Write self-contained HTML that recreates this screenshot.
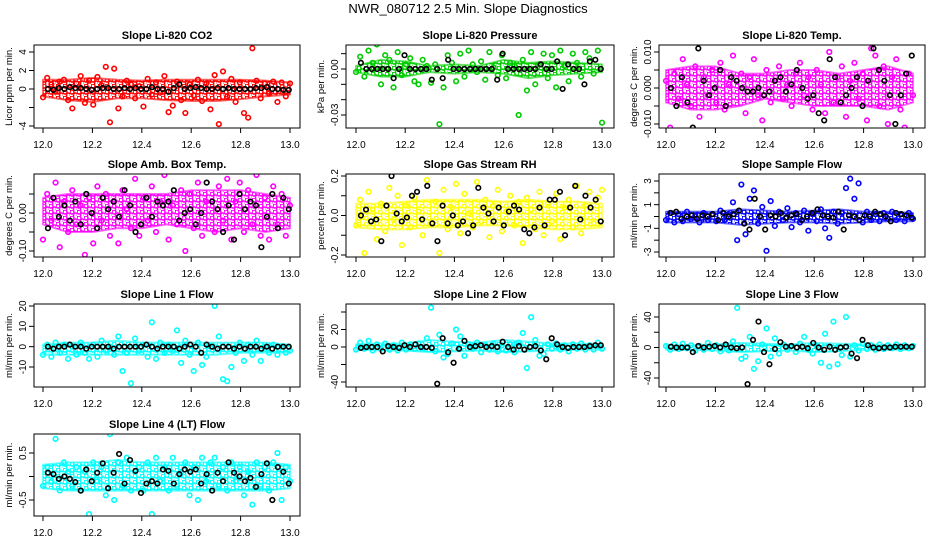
<!DOCTYPE html>
<html><head><meta charset="utf-8"><style>
html,body{margin:0;padding:0;background:#fff;}
svg{display:block;font-family:"Liberation Sans",sans-serif;}
</style></head><body>
<svg id="chart" width="936" height="540" viewBox="0 0 936 540">
<defs id="defs"></defs>
<text x="468" y="13" text-anchor="middle" font-size="13">NWR_080712  2.5 Min. Slope Diagnostics</text>
</svg>
<script>
const xTicks = [12.0, 12.2, 12.4, 12.6, 12.8, 13.0];
const xTickLabels = ["12.0","12.2","12.4","12.6","12.8","13.0"];

const co2Color = [-0.9,1.2,0.5,-0.3,0.8,1.0,-1.2,-2.1,0.6,1.4,-1.5,0.9,-1.7,1.3,0.4,2.4,-3.6,2.2,-2.1,-0.8,0.9,0.5,-1.0,0.3,-1.9,1.1,-0.6,0.7,-0.4,1.4,-2.5,-1.8,0.8,-1.2,-2.6,0.5,-0.7,1.0,-1.3,0.6,-2.2,1.5,-3.8,1.9,-0.8,1.1,-1.4,0.7,-2.6,-3.1,4.4,0.9,-1.0,0.6,-0.5,0.8,-1.4,0.7,-0.8,0.6];
const co2Black = [0,-0.1,0.1,0,0.2,0.1,0.1,0,-0.1,0,0.1,0.1,0,0,0.1,0,0.1,0,0,0.2,0,0,-0.3,0.1,0.5,0,0.1,0.2,0.1,0,0,0.1,0,0.1,0,0,0,0,0.1,0.1,0.2,0,0,-0.1,-0.1];
const co2BandUpper = [1,1,1.2,1,0.9,1,1,1,1,0.9,0.7];
const co2BandLower = [-0.8,-1.2,-1.4,-1,-1,-1.2,-1.3,-1.3,-1.1,-0.8,-0.6];
const co2Ticks = [-4,-2,0,2,4];
const co2TickLabels = ["-4","","0","2","4"];

const presColor = [-0.002,0.008,-0.005,0.012,0.004,0.016,-0.01,0.009,0.006,-0.012,0.011,-0.004,0.003,0.007,-0.008,-0.01,0.006,0.002,-0.009,0.003,-0.036,-0.012,0.009,0.004,-0.008,0.01,-0.005,0.012,0.003,-0.002,0.005,-0.007,0.011,0.001,-0.004,0.009,-0.006,0.004,0.002,-0.03,0.006,-0.014,0.011,-0.01,0.003,0.01,-0.006,0.009,-0.012,0.012,0.002,-0.008,0.01,0.004,-0.005,0.011,0.007,-0.003,0.012,-0.035];
const presBlack = [0.004,0,0,0,0,0,-0.006,0,0.009,0,0,0,0,-0.007,0,-0.006,0.006,0,0,0,0,0,0,0,0,-0.007,0.01,0,0,0,0,0,0,0.003,0,0,0.005,-0.013,0.003,0,0,-0.01,0.005,0.006,0];
const presBandUpper = [0.002,0.006,0.005,0.002,0.003,0.002,0.006,0.004,0.005,0.004,0.003];
const presBandLower = [-0.002,-0.005,-0.005,-0.002,-0.003,-0.002,-0.003,-0.006,-0.004,-0.003,-0.002];
const presTicks = [-0.03,-0.02,-0.01,0,0.01];
const presTickLabels = ["-0.03","","","0.00",""];

const ltempColor = [0.002,-0.011,0.004,-0.003,0.008,0.001,-0.005,0.006,-0.008,0.003,-0.002,0.005,-0.004,0.007,-0.006,0.001,0.009,-0.012,0.004,-0.007,0.003,0.008,-0.002,-0.009,0.005,-0.004,0.002,0.006,-0.003,0.001,-0.005,0.004,0.007,-0.002,0.003,-0.006,0.005,0.001,-0.007,0.01,-0.004,0.003,0.006,-0.008,0.002,0.007,-0.003,0.004,-0.009,0.011,0.009,-0.005,0.006,-0.01,0.003,0.008,-0.006,-0.011,0.004,-0.002];
const ltempBlack = [0,-0.005,0.003,-0.004,-0.011,0.011,0.002,-0.002,0,0.005,-0.005,0.003,0.002,0,-0.001,-0.001,0,-0.002,-0.001,0.002,0.003,-0.001,0.001,0.005,0,-0.003,-0.002,-0.007,-0.009,0.008,0.003,-0.004,-0.002,0,0.003,-0.005,0.002,0.011,0.005,0.002,-0.002,-0.01,-0.002,0.004,0.009];
const ltempBandUpper = [0.005,0.006,0.006,0.004,0.004,0.005,0.005,0.004,0.005,0.006,0.004];
const ltempBandLower = [-0.004,-0.006,-0.006,-0.005,-0.003,-0.004,-0.005,-0.005,-0.005,-0.006,-0.004];
const ltempTicks = [-0.01,-0.005,0,0.005,0.01];
const ltempTickLabels = ["-0.010","","0.000","","0.010"];

const ambColor = [-0.07,0.05,-0.02,0.08,-0.09,0.03,-0.05,0.06,-0.03,0.02,-0.11,0.04,-0.08,0.07,-0.02,0.05,-0.06,0.03,-0.08,0.06,0.01,-0.04,0.09,-0.06,0.04,-0.02,0.07,-0.05,0.03,0.1,-0.07,0.02,-0.03,0.06,-0.1,0.05,-0.04,0.08,-0.06,0.03,0.12,-0.05,0.07,-0.02,0.09,-0.07,0.03,0.08,-0.05,0.06,-0.03,0.1,-0.06,0.04,-0.07,0.07,-0.03,0.05,-0.06,0.02];
const ambBlack = [-0.04,0.04,-0.01,0.02,-0.02,0.03,-0.03,0.05,0,-0.04,0.04,0.01,0.03,-0.01,0.06,0.02,-0.05,-0.03,0.04,-0.01,0.03,0.02,0.03,0.06,-0.02,0,0.01,-0.03,0,0.08,0.03,0.01,-0.05,0.02,-0.07,0.05,0.01,0.03,0.02,-0.09,-0.01,0.05,-0.04,0.04,0.01];
const ambBandUpper = [0.04,0.05,0.05,0.05,0.05,0.05,0.06,0.06,0.06,0.05,0.04];
const ambBandLower = [-0.03,-0.05,-0.05,-0.04,-0.04,-0.03,-0.04,-0.05,-0.04,-0.05,-0.04];
const ambTicks = [-0.1,-0.05,0,0.05];
const ambTickLabels = ["-0.10","","0.00",""];

const rhColor = [-0.05,0.08,-0.19,0.12,0.03,-0.12,0.06,-0.08,0.14,-0.02,0.1,-0.15,0.05,-0.06,0.09,0.02,-0.1,0.18,-0.04,0.07,-0.19,0.13,-0.07,0.04,0.16,-0.09,0.11,0.01,-0.06,0.17,-0.03,0.08,-0.11,0.05,0.13,-0.08,0.02,0.1,-0.05,0.07,-0.14,0.09,0.03,-0.07,0.12,-0.1,0.06,-0.03,0.11,-0.12,0.04,0.08,-0.06,0.15,-0.09,0.05,0.12,-0.04,0.09,0.13];
const rhBlack = [0,0.03,-0.03,-0.02,-0.13,0.05,0.2,0.01,-0.03,-0.01,0.1,0.12,-0.02,0.15,-0.04,-0.13,0.05,-0.04,0,-0.05,-0.03,-0.09,-0.05,0.14,0.04,0.01,-0.03,0.04,-0.05,0.02,0.05,0.03,-0.07,-0.09,-0.06,0.04,-0.05,0.08,0.08,0.12,-0.1,0.04,0.15,-0.02,0.1,0.04,0.08,-0.03];
const rhBandUpper = [0.06,0.06,0.07,0.08,0.08,0.08,0.07,0.08,0.07,0.07,0.06];
const rhBandLower = [-0.06,-0.07,-0.07,-0.06,-0.06,-0.05,-0.05,-0.06,-0.07,-0.07,-0.06];
const rhTicks = [-0.2,-0.1,0,0.1,0.2];
const rhTickLabels = ["-0.2","","0.0","","0.2"];

const sflowColor = [-0.3,0.3,-0.5,0.2,-0.4,0.4,-0.2,0.1,-0.5,0.3,-0.3,0.2,-0.4,0.5,-0.3,0.2,1.2,-2,2.7,-1.5,1.5,2.2,-0.6,0.8,-2.9,1.3,-0.8,0.4,-0.3,0.7,-0.9,0.3,-0.5,0.5,-1.2,0.2,-0.4,0.6,-1.0,-1.8,0.4,-0.6,0.3,2.4,3.2,1.5,2.8,-0.5,0.4,-0.3,0.2,-0.4,0.3,-0.2,0.4,-0.3,0.2,-0.4,0.3,-0.2];
const sflowBlack = [0.3,0.4,-0.2,0,0.1,-0.2,0.1,0,0.2,-0.3,0.3,0,0.2,0.5,-0.6,-1.1,1.5,0,-1.1,0.1,0,0.3,-0.1,0.1,0.2,-0.3,0,0.3,0.6,0.1,0,-0.1,0.4,-1.1,0.1,0,-0.3,0.1,0,0.4,0.2,0,-0.4,0.3,0.2,0.1,-0.1];
const sflowBandUpper = [0.4,0.4,0.4,0.6,0.5,0.4,0.5,0.6,0.4,0.4,0.3];
const sflowBandLower = [-0.5,-0.5,-0.5,-0.7,-0.6,-0.5,-0.5,-0.6,-0.5,-0.4,-0.4];
const sflowTicks = [-3,-2,-1,0,1,2,3];
const sflowTickLabels = ["-3","","-1","","1","","3"];

const l1Color = [-4,1,-5,2,-3,1,-6,0,-4,2,-3,-6,1,-5,3,-2,0,-4,5,-12,-3,-18,4,-2,1,-5,12,-6,2,-3,1,-2,8,-8,3,-4,-12,2,-9,-5,0,20,5,-16,-17,-10,-3,2,-7,1,-4,3,-7,0,-3,1,-4,0,-3,-2];
const l1Black = [0,-1,0,0,1,0,0,-1,0,0,0,0,-1,0,0,0,0,0,1,0,-1,0,0,0,-1,0,1,0,-3,1,0,-1,0,0,-1,0,-1,0,0,-1,0,-1,0,0,0];
const l1BandUpper = [1,2,2,3,2,2,2,2,2,2,1];
const l1BandLower = [-4,-4,-4,-4,-4,-4,-4,-4,-3,-3,-3];
const l1Ticks = [-10,0,10,20];
const l1TickLabels = ["-10","0","10","20"];

const l2Color = [-3,5,-2,7,-4,3,-2,4,-3,2,-4,5,-3,3,-2,4,-1,10,45,-5,14,-12,-8,4,20,12,-10,3,-2,5,-6,2,-3,4,-5,2,-4,3,-6,5,16,-24,34,8,-10,-8,3,-2,4,-3,2,-5,3,-2,4,-3,2,-3,5,-2];
const l2Black = [-1,0,0,0,-5,1,0,-1,2,0,3,0,0,-1,-42,10,-6,-18,-2,7,0,1,2,0,1,0,6,0,-3,1,-3,0,1,-4,-14,10,3,0,-1,0,0,0,1,2,2];
const l2BandUpper = [3,4,4,8,6,5,8,6,4,4,3];
const l2BandLower = [-3,-4,-4,-6,-5,-4,-6,-5,-4,-3,-3];
const l2Ticks = [-40,-20,0,20,40];
const l2TickLabels = ["-40","","0","20",""];

const l3Color = [2,-3,4,-2,5,-1,3,-4,2,-3,6,-2,3,-5,2,-4,8,52,-15,-12,14,-28,-18,4,25,-12,12,-8,4,-3,2,-6,5,14,-3,-8,2,-20,18,-25,34,-22,-10,40,-12,3,-4,5,-2,3,-3,4,-2,3,-1,4,-2,3,-1,2];
const l3Black = [1,0,0,0,-6,2,0,1,2,0,4,0,-1,0,-48,10,34,-6,-22,-2,7,1,2,0,1,-1,6,0,-3,1,-3,0,1,-8,-14,10,3,0,-1,0,0,1,1,1,1];
const l3BandUpper = [3,3,4,6,5,4,6,5,4,3,3];
const l3BandLower = [-3,-3,-4,-6,-5,-4,-6,-5,-3,-3,-3];
const l3Ticks = [-40,-20,0,20,40];
const l3TickLabels = ["-40","","0","","40"];

const l4Color = [-0.2,0.2,-0.1,0.8,-0.3,0.3,0.1,-0.2,0.2,-0.3,0.1,-0.8,0.3,-0.1,0.2,-0.4,0.9,-0.5,0.3,-0.2,0.4,-0.3,0.1,0.2,-0.3,0.3,-0.8,0.4,-0.1,0.2,-0.3,0.4,-0.2,0.1,0.3,-0.4,0.2,-0.5,0.4,-0.1,0.3,0.4,-0.2,0.2,-0.3,0.3,-0.1,0.2,-0.4,0.1,-0.6,0.3,-0.2,0.2,-0.3,0.3,0.5,-0.5,0.2,-0.1];
const l4Black = [0.08,0.05,-0.05,0,-0.05,-0.12,-0.3,0.15,-0.1,0.08,0.28,-0.25,0.08,0.48,-0.15,0.35,0.12,-0.35,-0.15,-0.1,-0.15,0.15,0.12,-0.15,0.05,0.15,0.1,0.15,-0.15,0.05,-0.3,0.08,-0.1,0.3,0.08,0,-0.1,-0.03,-0.22,0.05,0.28,-0.5,0.2,0.1,-0.15];
const l4BandUpper = [0.25,0.3,0.3,0.35,0.3,0.3,0.3,0.3,0.3,0.3,0.25];
const l4BandLower = [-0.25,-0.3,-0.3,-0.3,-0.3,-0.3,-0.3,-0.3,-0.3,-0.3,-0.25];
const l4Ticks = [-0.5,0,0.5];
const l4TickLabels = ["-0.5","","0.5"];

const NS = "http://www.w3.org/2000/svg";
const svg = document.getElementById("chart");
const defs = document.getElementById("defs");
const cols = [{l:34,r:300,x0:43,x1:290},{l:346,r:614,x0:356,x1:602},{l:659,r:925,x0:666,x1:913}];
const rows = [{t:45,b:128},{t:174,b:257},{t:304,b:387},{t:434,b:516}];
const panels = [
 {name:"co2",title:"Slope Li-820 CO2",ylab:"Licor ppm per min.",c:0,r:0,col:"#ff0000",d:co2Color,k:co2Black,bu:co2BandUpper,bl:co2BandLower,tk:co2Ticks,tl:co2TickLabels,v0:4,p0:52,v1:-4,p1:126},
 {name:"pressure",title:"Slope Li-820 Pressure",ylab:"kPa per min.",c:1,r:0,col:"#00cc00",d:presColor,k:presBlack,bu:presBandUpper,bl:presBandLower,tk:presTicks,tl:presTickLabels,v0:0,p0:69,v1:-0.03,p1:115},
 {name:"li820-temp",title:"Slope Li-820 Temp.",ylab:"degrees C per min.",c:2,r:0,col:"#ff00ff",d:ltempColor,k:ltempBlack,bu:ltempBandUpper,bl:ltempBandLower,tk:ltempTicks,tl:ltempTickLabels,v0:0.01,p0:52,v1:-0.01,p1:124},
 {name:"amb-box-temp",title:"Slope Amb. Box Temp.",ylab:"degrees C per min.",c:0,r:1,col:"#ff00ff",d:ambColor,k:ambBlack,bu:ambBandUpper,bl:ambBandLower,tk:ambTicks,tl:ambTickLabels,v0:0,p0:213,v1:-0.1,p1:251},
 {name:"gas-stream-rh",title:"Slope Gas Stream RH",ylab:"percent per min.",c:1,r:1,col:"#ffff00",d:rhColor,k:rhBlack,bu:rhBandUpper,bl:rhBandLower,tk:rhTicks,tl:rhTickLabels,v0:0.2,p0:176,v1:-0.2,p1:255},
 {name:"sample-flow",title:"Slope Sample Flow",ylab:"ml/min per min.",c:2,r:1,col:"#0000ff",d:sflowColor,k:sflowBlack,bu:sflowBandUpper,bl:sflowBandLower,tk:sflowTicks,tl:sflowTickLabels,v0:3,p0:181,v1:-3,p1:252},
 {name:"line1-flow",title:"Slope Line 1 Flow",ylab:"ml/min per min.",c:0,r:2,col:"#00ffff",d:l1Color,k:l1Black,bu:l1BandUpper,bl:l1BandLower,tk:l1Ticks,tl:l1TickLabels,v0:20,p0:306,v1:-10,p1:367},
 {name:"line2-flow",title:"Slope Line 2 Flow",ylab:"ml/min per min.",c:1,r:2,col:"#00ffff",d:l2Color,k:l2Black,bu:l2BandUpper,bl:l2BandLower,tk:l2Ticks,tl:l2TickLabels,v0:0,p0:347,v1:-40,p1:382},
 {name:"line3-flow",title:"Slope Line 3 Flow",ylab:"ml/min per min.",c:2,r:2,col:"#00ffff",d:l3Color,k:l3Black,bu:l3BandUpper,bl:l3BandLower,tk:l3Ticks,tl:l3TickLabels,v0:40,p0:317,v1:-40,p1:378},
 {name:"line4-flow",title:"Slope Line 4 (LT) Flow",ylab:"ml/min per min.",c:0,r:3,col:"#00ffff",d:l4Color,k:l4Black,bu:l4BandUpper,bl:l4BandLower,tk:l4Ticks,tl:l4TickLabels,v0:0.5,p0:453,v1:-0.5,p1:500}
];
function mk(tag, attrs, parent){const e=document.createElementNS(NS,tag);for(const a in attrs)e.setAttribute(a,attrs[a]);parent.appendChild(e);return e;}

panels.forEach(p=>{
  const C=cols[p.c], R=rows[p.r];
  // speckle pattern for dense band
  const pat=mk("pattern",{id:"pat-"+p.name,width:7,height:6,patternUnits:"userSpaceOnUse"},defs);
  mk("circle",{cx:2,cy:2,r:2,fill:"none",stroke:p.col,"stroke-width":1.5},pat);
  mk("circle",{cx:5.5,cy:5,r:2,fill:"none",stroke:p.col,"stroke-width":1.5},pat);
  const g=mk("g",{},svg);
  
  
  const xs=v=>C.x0+(v-12)*(C.x1-C.x0);
  const ys=v=>p.p0+(v-p.v0)*(p.p1-p.p0)/(p.v1-p.v0);
  const cp=mk("clipPath",{id:"clip-"+p.name},g);
  mk("rect",{x:C.l,y:R.t,width:C.r-C.l,height:R.b-R.t},cp);
  const t=mk("text",{x:(C.l+C.r)/2,y:R.t-6,"text-anchor":"middle","font-size":"11","font-weight":"bold"},g);
  t.textContent=p.title;
  
  
  const yl=mk("text",{transform:`translate(${C.l-22},${(R.t+R.b)/2}) rotate(-90)`,"text-anchor":"middle","font-size":"9.5"},g);
  yl.textContent=p.ylab;
  
  
  const pts=mk("g",{"clip-path":`url(#clip-${p.name})`},g);
  
  
  const n=p.bu.length;
  let dpts=[];
  p.bu.forEach((v,i)=>dpts.push(xs(12+i/(n-1))+","+ys(v)));
  for(let i=n-1;i>=0;i--) dpts.push(xs(12+i/(n-1))+","+ys(p.bl[i]));
  const band=mk("polygon",{points:dpts.join(" "),fill:`url(#pat-${p.name})`,stroke:p.col,"stroke-width":2,"stroke-opacity":0.6,"stroke-linejoin":"round"},pts);
  
  
  p.d.forEach((v,i)=>{
    const c=mk("circle",{cx:xs(12+i/(p.d.length-1)),cy:ys(v),r:2.3,fill:"none",stroke:p.col,"stroke-width":1.6},pts);
    
    
  });
  p.k.forEach((v,i)=>{
    const c=mk("circle",{cx:xs(12.02+0.975*i/(p.k.length-1)),cy:ys(v),r:2.3,fill:"none",stroke:"#000","stroke-width":1.6},pts);
    
    
  });
  const bx=mk("rect",{x:C.l,y:R.t,width:C.r-C.l,height:R.b-R.t,fill:"none",stroke:"#000","stroke-width":1},g);
  
  
  xTicks.forEach((v,i)=>{
    const x=xs(v);
    mk("line",{x1:x,x2:x,y1:R.b,y2:R.b+5,stroke:"#000"},g);
    const tx=mk("text",{x:x,y:R.b+20,"text-anchor":"middle","font-size":"10"},g);
    tx.textContent=xTickLabels[i];
    
    
  });
  p.tk.forEach((v,i)=>{
    const y=ys(v);
    mk("line",{x1:C.l-5,x2:C.l,y1:y,y2:y,stroke:"#000"},g);
    if(p.tl[i]){
      const ty=mk("text",{transform:`translate(${C.l-8},${y}) rotate(-90)`,"text-anchor":"middle","font-size":"10"},g);
      ty.textContent=p.tl[i];
      
      
    }
  });
});
</script>
</body></html>
